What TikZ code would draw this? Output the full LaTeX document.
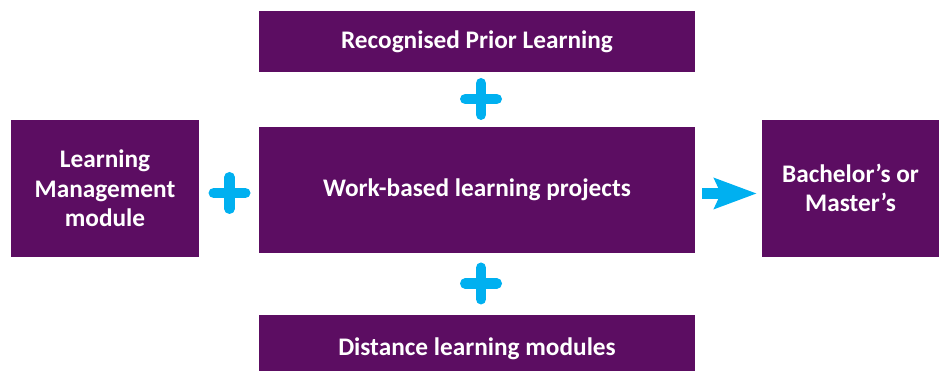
\documentclass[tikz,border=0pt]{standalone}
\usepackage{fontspec}
\setmainfont{Carlito}
\usepackage{xcolor}
\usepackage{tikz}
\usetikzlibrary{arrows.meta}

\definecolor{boxpurple}{RGB}{92,13,98}
\definecolor{pluscyan}{RGB}{0,176,240}

\begin{document}
\begin{tikzpicture}[x=0.02cm,y=0.02cm,
    box/.style={fill=boxpurple,draw=none,text=white,align=center,inner sep=0pt,
        font=\fontsize{14.4}{16.6}\selectfont\bfseries},
    plus/.style={draw=pluscyan,line width=10.5*0.02cm,line cap=round},
    flow/.style={draw=pluscyan,line width=10.7*0.02cm,
        -{Stealth[length=43*0.02cm,width=32*0.02cm,inset=7.5*0.02cm,line width=0pt]}}]
    \useasboundingbox (0,0) rectangle (940,371);

    \node[box,minimum width=188*0.02cm,minimum height=136.7*0.02cm] (LM) at (105,182.7) {Learning\\Management\\module};
    \node[box,minimum width=436*0.02cm,minimum height=60.7*0.02cm] (RPL) at (477,329.7) {Recognised Prior Learning};
    \node[box,minimum width=436*0.02cm,minimum height=126*0.02cm] (WBL) at (477,181.3) {Work-based learning projects};
    \node[box,minimum width=436*0.02cm,minimum height=68*0.02cm] (DLM) at (477,22) {Distance learning modules};
    \node[box,minimum width=177*0.02cm,minimum height=136.7*0.02cm] (BM) at (850.5,182.7) {Bachelor’s or\\Master’s};

    \foreach \x/\y in {481/272, 229.5/178, 481/87.5}
        \draw[plus] (\x-15.75,\y) -- (\x+15.75,\y) (\x,\y-15.75) -- (\x,\y+15.75);

    \draw[flow,shorten <=6.7*0.02cm,shorten >=5.3*0.02cm] (WBL.east |- 0,177.5) -- (BM.west |- 0,177.5);
\end{tikzpicture}
\end{document}
